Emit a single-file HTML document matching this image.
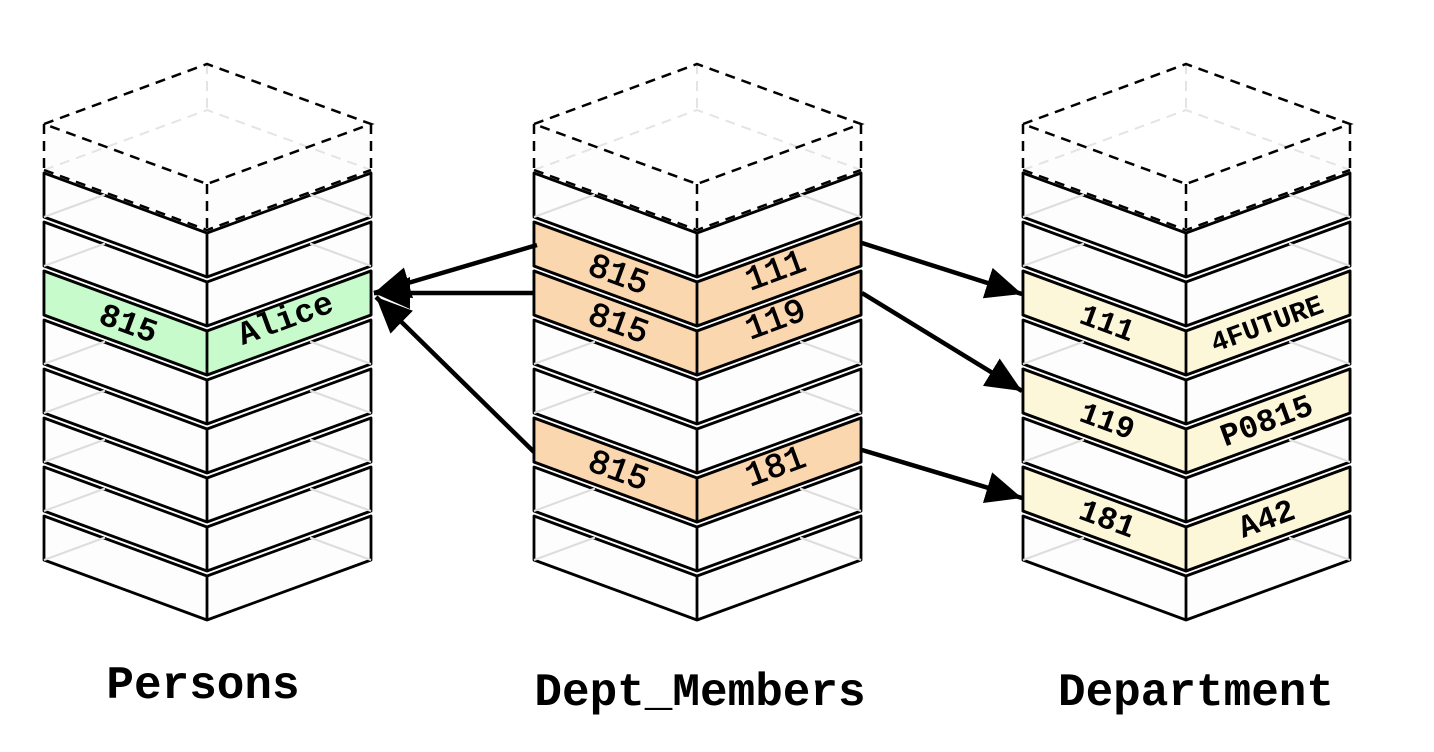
<!DOCTYPE html>
<html><head><meta charset="utf-8"><style>
html,body{margin:0;padding:0;background:#fff;}
svg{display:block;}
.t{font-family:"Liberation Mono","DejaVu Sans Mono",monospace;}
</style></head><body>
<svg width="1434" height="752" viewBox="0 0 1434 752" xmlns="http://www.w3.org/2000/svg">
<defs>
<g id="slabs">
  <path d="M0,1 L163,61 L327,1 L327,45 L163,105 L0,45 Z" fill="#fdfdfd" stroke="#000" stroke-width="2.8" stroke-linejoin="round"/>
  <path d="M0,45 L61,22.5 M327,45 L266,22.5" stroke="#ddd" stroke-width="2" fill="none"/>
  <path d="M163,61 V105" stroke="#000" stroke-width="2.8"/>
</g>
<g id="top">
  <path d="M0,0 L163,60 L327,0 L327,46 L163,106 L0,46 Z" fill="#fdfdfd"/>
  <path d="M163,-60 V-14 M0,46 L163,-14 L327,46" stroke="#e4e4e4" stroke-width="2" stroke-dasharray="10,7" fill="none"/>
  <path d="M0,0 L163,-60 L327,0 L163,60 Z M0,0 V46 M327,0 V46 M163,60 V106 M0,46 L163,106 L327,46" stroke="#000" stroke-width="2.5" stroke-dasharray="10,7" fill="none"/>
</g>
<g id="stack">
  <use href="#top" y="124"/>
  <use href="#slabs" y="172"/>
  <use href="#slabs" y="221"/>
  <use href="#slabs" y="270"/>
  <use href="#slabs" y="319"/>
  <use href="#slabs" y="368"/>
  <use href="#slabs" y="417"/>
  <use href="#slabs" y="466"/>
  <use href="#slabs" y="515"/>
</g>
<marker id="ah" markerUnits="userSpaceOnUse" markerWidth="40" markerHeight="34" refX="36" refY="16" orient="auto">
  <path d="M0,0 L36,16 L0,32 Z" fill="#000"/>
</marker>
</defs>

<use href="#stack" x="44"/>
<use href="#stack" x="534"/>
<use href="#stack" x="1023"/>

<g stroke="#000" stroke-width="2.8" stroke-linejoin="round">
  <path transform="translate(44,270)" d="M0,1 L163,61 L327,1 L327,45 L163,105 L0,45 Z M163,61 V105" fill="#c8fbcb"/>
  <path transform="translate(534,221)" d="M0,1 L163,61 L327,1 L327,45 L163,105 L0,45 Z M163,61 V105" fill="#fbd7b0"/>
  <path transform="translate(534,270)" d="M0,1 L163,61 L327,1 L327,45 L163,105 L0,45 Z M163,61 V105" fill="#fbd7b0"/>
  <path transform="translate(534,417)" d="M0,1 L163,61 L327,1 L327,45 L163,105 L0,45 Z M163,61 V105" fill="#fbd7b0"/>
  <path transform="translate(1023,270)" d="M0,1 L163,61 L327,1 L327,45 L163,105 L0,45 Z M163,61 V105" fill="#fdf7d9"/>
  <path transform="translate(1023,368)" d="M0,1 L163,61 L327,1 L327,45 L163,105 L0,45 Z M163,61 V105" fill="#fdf7d9"/>
  <path transform="translate(1023,466)" d="M0,1 L163,61 L327,1 L327,45 L163,105 L0,45 Z M163,61 V105" fill="#fdf7d9"/>
</g>

<g class="t" text-anchor="middle" fill="#000">
  <text font-size="33" font-weight="bold" transform="translate(125,333) rotate(20.2)">815</text>
  <text font-size="33" font-weight="bold" transform="translate(289,328) rotate(-20.2)">Alice</text>

  <g stroke="#000" stroke-width="0.9">
  <text font-size="34" transform="translate(615,284) rotate(20.2)">815</text>
  <text font-size="34" transform="translate(779,280) rotate(-20.2)">111</text>
  <text font-size="34" transform="translate(615,333) rotate(20.2)">815</text>
  <text font-size="34" transform="translate(779,329) rotate(-20.2)">119</text>
  <text font-size="34" transform="translate(615,480) rotate(20.2)">815</text>
  <text font-size="34" transform="translate(779,476) rotate(-20.2)">181</text>
  </g>

  <text font-size="31" font-weight="bold" transform="translate(1104,332) rotate(20.2)">111</text>
  <text font-size="28" font-weight="bold" transform="translate(1270,332) rotate(-20.2)">4FUTURE</text>
  <text font-size="31" font-weight="bold" transform="translate(1104,430) rotate(20.2)">119</text>
  <text font-size="32" font-weight="bold" transform="translate(1270,430) rotate(-20.2)">P0815</text>
  <text font-size="32" font-weight="bold" transform="translate(1104,528) rotate(20.2)">181</text>
  <text font-size="32" font-weight="bold" transform="translate(1270,528) rotate(-20.2)">A42</text>
</g>

<g stroke="#000" stroke-width="4.5" fill="none" marker-end="url(#ah)">
  <line x1="537" y1="245" x2="374" y2="293"/>
  <line x1="534" y1="293" x2="374" y2="293"/>
  <line x1="534" y1="452" x2="376" y2="297"/>
  <line x1="862" y1="243" x2="1022" y2="294"/>
  <line x1="862" y1="293" x2="1022" y2="391"/>
  <line x1="862" y1="450" x2="1022" y2="498"/>
</g>

<g class="t" text-anchor="middle" font-weight="bold" font-size="46" fill="#000">
  <text x="203" y="698">Persons</text>
  <text x="700" y="705">Dept_Members</text>
  <text x="1196" y="705">Department</text>
</g>
</svg>
</body></html>
